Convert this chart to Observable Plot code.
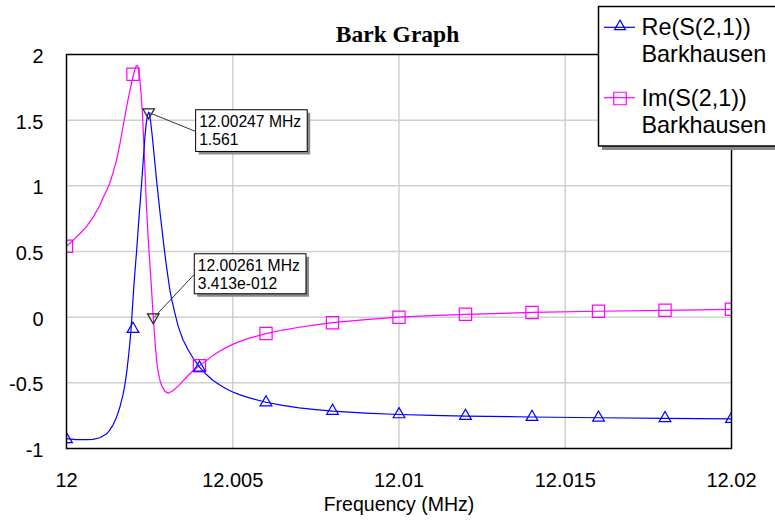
<!DOCTYPE html>
<html><head><meta charset="utf-8">
<script src="https://cdn.jsdelivr.net/npm/d3@7"></script>
<script src="https://cdn.jsdelivr.net/npm/@observablehq/plot@0.6"></script>
<style>
html,body{margin:0;padding:0;background:#fff;overflow:hidden;}
#wrap{position:relative;width:775px;height:521px;overflow:hidden;}
#wrap > svg{position:absolute;left:0;top:0;}
</style></head><body><div id="wrap"></div>
<script>
const title = "Bark Graph";
const xLabel = "Frequency (MHz)";
const seriesNames = ["Re(S(2,1))", "Im(S(2,1))"];
const seriesSub = "Barkhausen";
const xTicks = [12, 12.005, 12.01, 12.015, 12.02];
const xTickLabels = ["12", "12.005", "12.01", "12.015", "12.02"];
const yTicks = [-1, -0.5, 0, 0.5, 1, 1.5, 2];
const yTickLabels = ["-1", "-0.5", "0", "0.5", "1", "1.5", "2"];

const reFreq = [12.0000,12.0003,12.0006,12.0008,12.0010,12.0012,12.0013,12.0014,12.0015,12.0016,12.0017,12.00176,12.00181,12.00186,12.0019,12.00194,12.00198,12.00203,12.00207,12.00211,12.00215,12.00219,12.00223,12.00227,12.00231,12.00236,12.00240,12.00244,12.00247,12.00250,12.00253,12.00257,12.00261,12.00266,12.00271,12.00276,12.00282,12.00288,12.00294,12.00300,12.00305,12.00310,12.00316,12.00325,12.00336,12.00350,12.00366,12.00383,12.00400,12.0042,12.0044,12.0046,12.0048,12.0050,12.0052,12.0055,12.0060,12.0065,12.0070,12.0075,12.0080,12.0090,12.0100,12.0110,12.0120,12.0140,12.0160,12.0180,12.0200];
const reVal = [-0.925,-0.932,-0.933,-0.93,-0.918,-0.89,-0.86,-0.82,-0.765,-0.69,-0.59,-0.51,-0.42,-0.31,-0.21,-0.10,0.06,0.25,0.38,0.51,0.65,0.79,0.92,1.06,1.20,1.38,1.48,1.54,1.561,1.54,1.49,1.40,1.30,1.17,1.04,0.92,0.78,0.65,0.52,0.40,0.31,0.22,0.14,0.04,-0.07,-0.17,-0.25,-0.32,-0.38,-0.435,-0.48,-0.515,-0.545,-0.57,-0.59,-0.615,-0.648,-0.672,-0.69,-0.704,-0.716,-0.731,-0.741,-0.748,-0.753,-0.760,-0.766,-0.771,-0.775];

const imFreq = [12.0000,12.0002,12.0004,12.0006,12.0008,12.0010,12.0011,12.0012,12.0013,12.0014,12.0015,12.0016,12.0017,12.0018,12.0019,12.0020,12.00205,12.00209,12.00213,12.00217,12.00221,12.00225,12.00229,12.00233,12.00237,12.00241,12.00245,12.00249,12.00253,12.00257,12.00261,12.00266,12.00271,12.00276,12.00281,12.00286,12.00296,12.00306,12.00320,12.00336,12.00350,12.00366,12.00380,12.00396,12.0041,12.0042,12.0044,12.0046,12.0048,12.0050,12.0052,12.0055,12.0060,12.0065,12.0070,12.0075,12.0080,12.0090,12.0100,12.0110,12.0120,12.0140,12.0160,12.0180,12.0200];
const imVal = [0.54,0.585,0.635,0.69,0.76,0.85,0.91,0.96,1.02,1.10,1.19,1.31,1.45,1.59,1.72,1.83,1.88,1.91,1.917,1.89,1.80,1.68,1.52,1.30,1.05,0.82,0.63,0.47,0.32,0.16,0.0,-0.18,-0.33,-0.42,-0.48,-0.52,-0.565,-0.58,-0.56,-0.525,-0.487,-0.444,-0.41,-0.378,-0.35,-0.332,-0.293,-0.26,-0.232,-0.207,-0.186,-0.16,-0.125,-0.098,-0.077,-0.058,-0.042,-0.018,0.0,0.012,0.022,0.036,0.045,0.052,0.06];

const markFreq = [12, 12.002, 12.004, 12.006, 12.008, 12.01, 12.012, 12.014, 12.016, 12.018, 12.02];
const reMark = [-0.93, -0.09, -0.385, -0.65, -0.714, -0.74, -0.753, -0.76, -0.766, -0.77, -0.775];
const imMark = [0.54, 1.85, -0.37, -0.125, -0.042, 0.0, 0.022, 0.036, 0.045, 0.052, 0.06];

const annFreq = [12.00247, 12.00261];
const annVal = [1.561, 0];
const annLine1 = ["12.00247 MHz", "12.00261 MHz"];
const annLine2 = ["1.561", "3.413e-012"];

const BLUE = "#0000ff", MAG = "#ff00ff";
const SANS = "'Liberation Sans', Arial, sans-serif";

const reData = reFreq.map((f, i) => ({f, v: reVal[i]}));
const imData = imFreq.map((f, i) => ({f, v: imVal[i]}));
const reM = markFreq.map((f, i) => ({f, v: reMark[i]}));
const imM = markFreq.map((f, i) => ({f, v: imMark[i]}));
const annData = annFreq.map((f, i) => ({f, v: annVal[i]}));

const plot = Plot.plot({
  width: 775, height: 521,
  marginLeft: 66, marginRight: 44, marginTop: 54, marginBottom: 73,
  style: {background: "white", fontFamily: SANS, fontSize: "20px", color: "black"},
  x: {domain: [12, 12.02]},
  y: {domain: [-1, 2]},
  marks: [
    Plot.gridX(xTicks.slice(1, -1), {stroke: "#d0d0d0", strokeOpacity: 1, strokeWidth: 1.5}),
    Plot.gridY(yTicks.slice(1, -1), {stroke: "#d0d0d0", strokeOpacity: 1, strokeWidth: 1.5}),
    Plot.line(imData, {x: "f", y: "v", stroke: MAG, strokeWidth: 1.2, clip: true}),
    Plot.line(reData, {x: "f", y: "v", stroke: BLUE, strokeWidth: 1.2, clip: true}),
    Plot.dot(imM, {x: "f", y: "v", symbol: "square", r: 6.9, stroke: MAG, fill: "none", strokeWidth: 1.2, clip: true}),
    Plot.dot(reM, {x: "f", y: "v", symbol: "triangle", r: 4.35, stroke: BLUE, fill: "none", strokeWidth: 1.2, clip: true}),
    Plot.dot(annData, {x: "f", y: "v", symbol: "triangle", rotate: 180, r: 4.3, stroke: "#222", fill: "none", strokeWidth: 1.2}),
    Plot.frame({stroke: "black", strokeWidth: 1.5}),
    Plot.axisX(xTicks, {tickSize: 0, tickPadding: 24, fontSize: 20, label: null,
      tickFormat: d => xTickLabels[xTicks.indexOf(d)]}),
    Plot.axisY(yTicks, {tickSize: 0, tickPadding: 23, fontSize: 20, label: null, dy: 2,
      tickFormat: d => yTickLabels[yTicks.indexOf(d)]}),
    Plot.text([xLabel], {text: d => d, frameAnchor: "bottom", dy: 62, fontSize: 19.5})
  ]
});

const wrap = document.getElementById("wrap");
wrap.appendChild(plot);

const sx = plot.scale("x"), sy = plot.scale("y");
const X = d3.scaleLinear(sx.domain, sx.range);
const Y = d3.scaleLinear(sy.domain, sy.range);

const ov = d3.select(wrap).append("svg")
  .attr("width", 775).attr("height", 521)
  .style("font-family", SANS);

// title
ov.append("text").attr("x", 397.5).attr("y", 42).attr("text-anchor", "middle")
  .style("font-family", "'Liberation Serif', 'Times New Roman', serif")
  .style("font-weight", "bold").style("font-size", "23.5px").text(title);

// annotation boxes (positioned relative to marker via scales)
const annLayout = [
  {dx: 47, dy: -2.4, w: 111.6, h: 41.7, ly: 22},
  {dx: 41, dy: -63.4, w: 111.7, h: 40, ly: 21.7}
];
annData.forEach((d, i) => {
  const px = X(d.f), py = Y(d.v);
  const L = annLayout[i];
  const bx = px + L.dx, by = py + L.dy;
  ov.append("line").attr("x1", px + 1).attr("y1", py + 1).attr("x2", bx).attr("y2", by + L.ly)
    .attr("stroke", "#333").attr("stroke-width", 1);
  ov.append("rect").attr("x", bx + 3.5).attr("y", by + 3.5).attr("width", L.w).attr("height", L.h).attr("fill", "#8a8a8a");
  ov.append("rect").attr("x", bx + 0.5).attr("y", by + 0.5).attr("width", L.w).attr("height", L.h)
    .attr("fill", "white").attr("stroke", "black").attr("stroke-width", 1);
  ov.append("text").attr("x", bx + 4).attr("y", by + 17.5).style("font-size", "15.7px").text(annLine1[i]);
  ov.append("text").attr("x", bx + 4).attr("y", by + 35.3).style("font-size", "15.7px").text(annLine2[i]);
});

// legend
const lg = ov.append("g");
lg.append("rect").attr("x", 602).attr("y", 10).attr("width", 200).attr("height", 140).attr("fill", "#8a8a8a");
lg.append("rect").attr("x", 598.5).attr("y", 6.5).attr("width", 200).attr("height", 139.5)
  .attr("fill", "white").attr("stroke", "black").attr("stroke-width", 1.5);
const legRows = [
  {name: seriesNames[0], color: BLUE, sym: d3.symbolTriangle, size: 52, ly: 27.3, sy: 26.5, t1: 35, t2: 61.7},
  {name: seriesNames[1], color: MAG, sym: d3.symbolSquare, size: 156, ly: 97.7, sy: 98.5, t1: 106, t2: 132.7}
];
legRows.forEach(r => {
  lg.append("line").attr("x1", 604).attr("x2", 635).attr("y1", r.ly).attr("y2", r.ly)
    .attr("stroke", r.color).attr("stroke-width", 1.2);
  lg.append("path").attr("d", d3.symbol(r.sym, r.size)()).attr("transform", `translate(620,${r.sy})`)
    .attr("fill", "none").attr("stroke", r.color).attr("stroke-width", 1.2);
  lg.append("text").attr("x", 641.5).attr("y", r.t1).style("font-size", "23.4px").text(r.name);
  lg.append("text").attr("x", 641.5).attr("y", r.t2).style("font-size", "23.4px").text(seriesSub);
});
</script></body></html>
